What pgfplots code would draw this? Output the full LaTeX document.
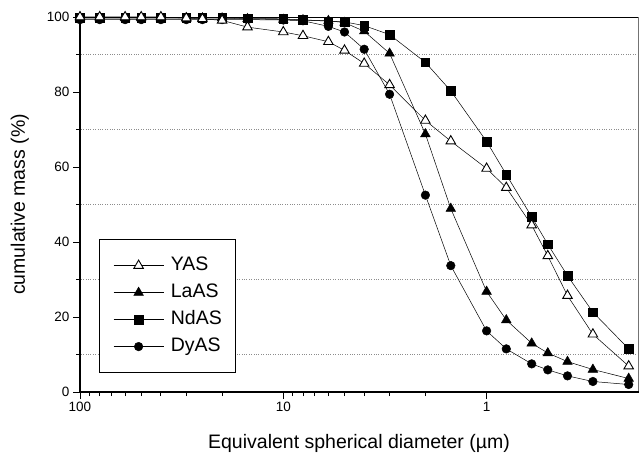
\documentclass[border=0pt]{standalone}
\usepackage{fontspec}
\setmainfont{Liberation Sans}
\usepackage{pgfplots}
\pgfplotsset{compat=1.18}
\begin{document}
\begin{tikzpicture}
\begin{axis}[
  at={(0pt,0pt)}, anchor=south west,
  scale only axis, width=558pt, height=375pt,
  xmode=log, x dir=reverse,
  xmin=0.18, xmax=100,
  ymin=0, ymax=100,
  xtick={1,10,100}, xticklabels={1,10,100},
  ytick={0,20,40,60,80,100},
  minor ytick={10,30,50,70,90},
  yminorgrids=true,
  minor grid style={black!45, dotted, line width=0.45pt},
  tick align=outside,
  xtick pos=bottom, ytick pos=left,
  major tick length=7pt, minor tick length=4pt,
  every tick/.style={black, line width=0.8pt},
  axis line style={draw=none},
  /pgf/number format/assume math mode=true,
  tick label style={font=\fontsize{13.5}{16}\selectfont},
  clip=false,
  xlabel={Equivalent spherical diameter (µm)},
  ylabel={cumulative mass (\%)},
  every axis x label/.style={at={([yshift=-56pt]axis description cs:0.5,0)}, anchor=base, font=\fontsize{19.5}{23}\selectfont},
  every axis y label/.style={at={([xshift=-55pt]axis description cs:0,0.5)}, anchor=base, rotate=90, font=\fontsize{19.5}{23}\selectfont},
  reverse legend,
  legend style={at={(rel axis cs:0.034,0.0507)}, anchor=south west, draw=black, line width=0.8pt, fill=white,
    font=\fontsize{19.5}{23}\selectfont, inner xsep=14pt, inner ysep=17pt, row sep=9pt,
    nodes={inner sep=0pt, text height=14pt, text depth=4pt}, column sep=7pt},
  legend cell align=left,
  legend image code/.code={\draw[mark repeat=2,mark phase=2] plot coordinates {(0pt,0pt) (25pt,0pt) (50pt,0pt)};},
]
\draw[black!55, line width=0.6pt] (rel axis cs:1,0) -- (rel axis cs:1,1);
\draw[black, line width=0.9pt] (rel axis cs:0,1) -- (rel axis cs:1,1);
% DyAS
\addplot[black, line width=0.5pt, mark=*, mark size=4.3pt, mark options={solid, fill=black, line width=0.5pt}] coordinates {
(100,99.3) (80,99.3) (60,99.3) (50,99.3) (40,99.3) (30,99.3) (25,99.3) (20,99.3) (15,99.3)
(10,99.2) (8,99.0) (6,97.5) (5,96.0) (4,91.4) (3,79.4) (2,52.5) (1.5,33.7) (1,16.3)
(0.8,11.5) (0.6,7.5) (0.5,5.9) (0.4,4.3) (0.3,2.8) (0.2,2.0)};
\addlegendentry{DyAS}
% NdAS
\addplot[black, line width=0.5pt, mark=square*, mark size=4.3pt, mark options={solid, fill=black, line width=0.5pt}] coordinates {
(100,99.8) (80,99.8) (60,99.8) (50,99.8) (40,99.8) (30,99.8) (25,99.8) (20,99.8) (15,99.7)
(10,99.5) (8,99.2) (6,98.9) (5,98.7) (4,97.7) (3,95.3) (2,87.9) (1.5,80.3) (1,66.8)
(0.8,58.0) (0.6,46.7) (0.5,39.4) (0.4,31.0) (0.3,21.3) (0.2,11.5)};
\addlegendentry{NdAS}
% LaAS
\addplot[black, line width=0.5pt, mark=triangle*, mark size=5.5pt, mark options={solid, fill=black, line width=0.5pt}] coordinates {
(100,99.7) (80,99.7) (60,99.7) (50,99.7) (40,99.7) (30,99.7) (25,99.7) (20,99.7) (15,99.5)
(10,99.3) (8,99.2) (6,99.0) (5,98.5) (4,96.2) (3,90.3) (2,68.8) (1.5,48.9) (1,26.8)
(0.8,19.2) (0.6,13.0) (0.5,10.4) (0.4,8.1) (0.3,6.0) (0.2,3.6)};
\addlegendentry{LaAS}
% YAS
\addplot[black, line width=0.5pt, mark=triangle*, mark size=5.5pt, mark options={solid, fill=white, draw=black, line width=0.9pt}] coordinates {
(100,100) (80,100) (60,100) (50,100) (40,100) (30,99.7) (25,99.5) (20,99.1) (15,97.3)
(10,96.0) (8,95.0) (6,93.4) (5,91.1) (4,87.6) (3,81.9) (2,72.4) (1.5,66.9) (1,59.6)
(0.8,54.5) (0.6,44.5) (0.5,36.3) (0.4,25.7) (0.3,15.4) (0.2,6.9)};
\addlegendentry{YAS}
\draw[line width=2pt, line cap=rect] (rel axis cs:0,1) -- (rel axis cs:0,0) -- (rel axis cs:1,0);
\end{axis}
\pgfresetboundingbox
\useasboundingbox (-80pt,-61pt) rectangle (559pt,392pt);
\end{tikzpicture}
\end{document}
